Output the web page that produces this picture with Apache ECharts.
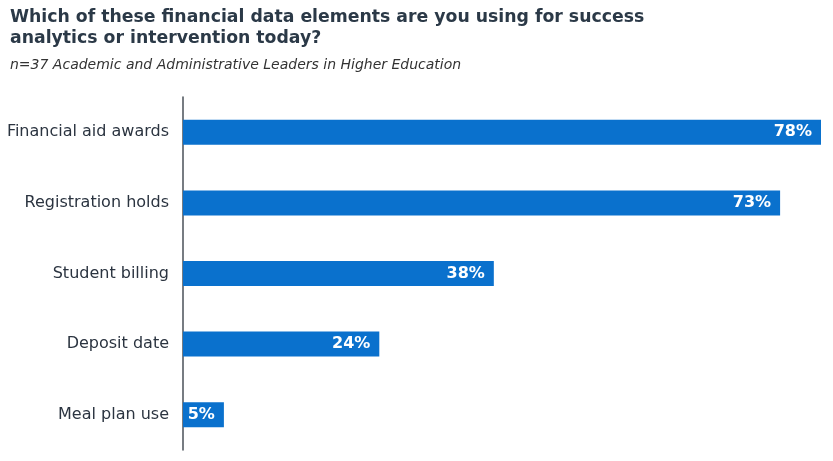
<!DOCTYPE html>
<html>
<head>
<meta charset="utf-8">
<script src="https://cdn.jsdelivr.net/npm/echarts@6/dist/echarts.min.js"></script>
<style>
  html, body { margin: 0; padding: 0; background: #fff; }
  #chart { width: 833px; height: 461px; }
</style>
</head>
<body>
<div id="chart"></div>
<script>
// data
const categories = ['Financial aid awards', 'Registration holds', 'Student billing', 'Deposit date', 'Meal plan use'];
const shares = [78, 73, 38, 24, 5];

const chart = echarts.init(document.getElementById('chart'));
chart.setOption({
    animation: false,
    textStyle: { fontFamily: 'DejaVu Sans' },
    title: {
        text: 'Which of these financial data elements are you using for success\nanalytics or intervention today?',
        subtext: 'n=37 Academic and Administrative Leaders in Higher Education',
        left: 5,
        top: 2,
        itemGap: 9,
        textStyle: { fontSize: 17.3, fontWeight: 'bold', color: '#2b3947', lineHeight: 21, fontFamily: 'DejaVu Sans' },
        subtextStyle: { fontSize: 14, fontStyle: 'italic', color: '#333', fontFamily: 'DejaVu Sans' }
    },
    grid: { left: 183, right: 12, top: 97, bottom: 11 },
    xAxis: {
        type: 'value',
        min: 0,
        max: 78,
        show: false
    },
    yAxis: {
        type: 'category',
        data: categories,
        inverse: true,
        axisTick: { show: false },
        axisLine: { show: true, lineStyle: { color: '#4a5059', width: 1.5 } },
        axisLabel: { fontSize: 16, color: '#2b3440', margin: 14 }
    },
    series: [{
        type: 'bar',
        data: shares,
        barWidth: 25,
        itemStyle: { color: '#0a71cd' },
        label: {
            show: true,
            position: 'insideRight',
            formatter: '{c}%',
            color: '#fff',
            fontWeight: 'bold',
            fontSize: 16,
            distance: 9
        }
    }]
});
</script>
</body>
</html>
